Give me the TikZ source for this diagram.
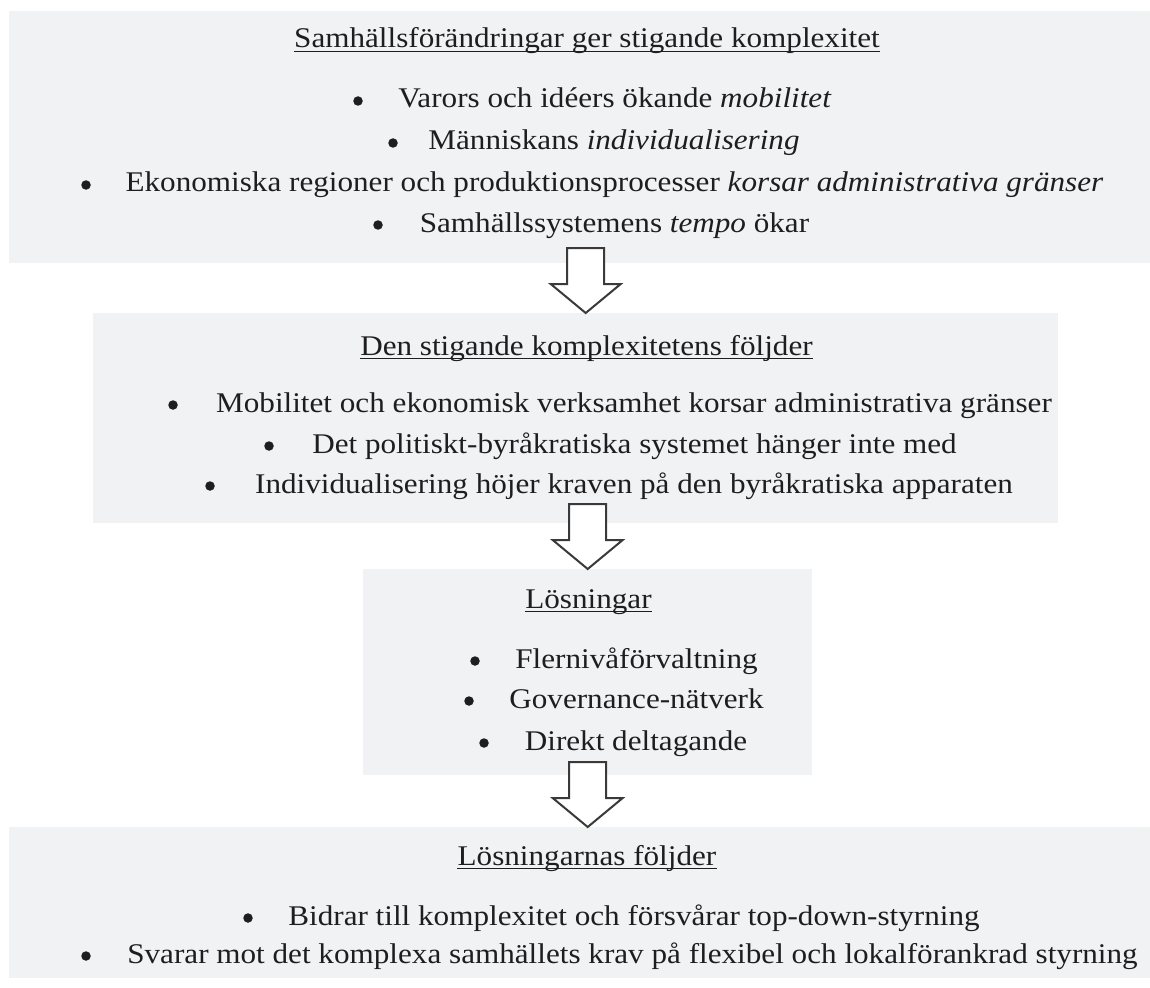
\documentclass[tikz,border=0pt]{standalone}
\usepackage{fontspec}
\setmainfont[FakeStretch=1.093]{Liberation Serif}
\usetikzlibrary{calc}
\definecolor{boxfill}{RGB}{241,242,244}
\definecolor{arrline}{RGB}{58,58,58}
\definecolor{txtcol}{RGB}{30,30,30}
\begin{document}
\begin{tikzpicture}[x=1pt,y=-1pt,
  boxst/.style={fill=boxfill,draw=none,anchor=north west,inner sep=0pt},
  txt/.style={anchor=base,inner sep=0pt,text=txtcol,font=\fontsize{28.5}{34}\selectfont},
  bul/.style={circle,fill=txtcol,inner sep=0pt,minimum size=9.5pt},
  uline/.style={draw=txtcol,line width=1.6pt},
  barrow/.style={draw=arrline,fill=white,line width=2pt,line join=miter}]
\useasboundingbox[fill=white] (0,0) rectangle (1150,987);
% boxes
\node[boxst,minimum width=1141pt,minimum height=252pt] (b1) at (9,11) {};
\node[boxst,minimum width=965pt,minimum height=210pt] (b2) at (93,313) {};
\node[boxst,minimum width=449pt,minimum height=206pt] (b3) at (363,569) {};
\node[boxst,minimum width=1141pt,minimum height=151pt] (b4) at (9,827) {};
% box 1
\node[txt] (h1) at (587,48) {Samhällsförändringar ger stigande komplexitet};
\draw[uline] ([yshift=-3.5pt]h1.base west) -- ([yshift=-3.5pt]h1.base east);
\node[bul] (p11) at (358,101) {};
\node[txt] (l11) at (615,108) {Varors och idéers ökande \textit{mobilitet}};
\node[bul] (p12) at (393,143) {};
\node[txt] (l12) at (614,150) {Människans \textit{individualisering}};
\node[bul] (p13) at (86,185) {};
\node[txt] (l13) at (614.5,192) {Ekonomiska regioner och produktionsprocesser \textit{korsar administrativa gränser}};
\node[bul] (p14) at (378,225) {};
\node[txt] (l14) at (614.5,232) {Samhällssystemens \textit{tempo} ökar};
% box 2
\node[txt] (h2) at (586.5,355) {Den stigande komplexitetens följder};
\draw[uline] ([yshift=-3.5pt]h2.base west) -- ([yshift=-3.5pt]h2.base east);
\node[bul] (p21) at (173,405) {};
\node[txt] (l21) at (634,412) {Mobilitet och ekonomisk verksamhet korsar administrativa gränser};
\node[bul] (p22) at (269,446) {};
\node[txt] (l22) at (634.5,453) {Det politiskt-byråkratiska systemet hänger inte med};
\node[bul] (p23) at (210,486) {};
\node[txt] (l23) at (634,493) {Individualisering höjer kraven på den byråkratiska apparaten};
% box 3
\node[txt] (h3) at (588.5,608) {Lösningar};
\draw[uline] ([yshift=-3.5pt]h3.base west) -- ([yshift=-3.5pt]h3.base east);
\node[bul] (p31) at (475,661) {};
\node[txt] (l31) at (636.5,668) {Flernivåförvaltning};
\node[bul] (p32) at (469,701) {};
\node[txt] (l32) at (636.5,708) {Governance-nätverk};
\node[bul] (p33) at (484,743) {};
\node[txt] (l33) at (636,750) {Direkt deltagande};
% box 4
\node[txt] (h4) at (587,865) {Lösningarnas följder};
\draw[uline] ([yshift=-3.5pt]h4.base west) -- ([yshift=-3.5pt]h4.base east);
\node[bul] (p41) at (248,918) {};
\node[txt] (l41) at (634,925) {Bidrar till komplexitet och försvårar top-down-styrning};
\node[bul] (p42) at (86,956) {};
\node[txt] (l42) at (632.5,963) {Svarar mot det komplexa samhällets krav på flexibel och lokalförankrad styrning};
% block arrows
\coordinate (t1) at ($(b3.north |- b2.north)+(-2,0)$);
\coordinate (t2) at (b3.north);
\coordinate (t3) at (b3.north |- b4.north);
\foreach \t in {t1,t2,t3}{
  \draw[barrow] (\t) -- ++(-35,-29) -- ++(16.5,0) -- ++(0,-36) -- ++(37,0) -- ++(0,36) -- ++(16.5,0) -- cycle;
}
\end{tikzpicture}
\end{document}
